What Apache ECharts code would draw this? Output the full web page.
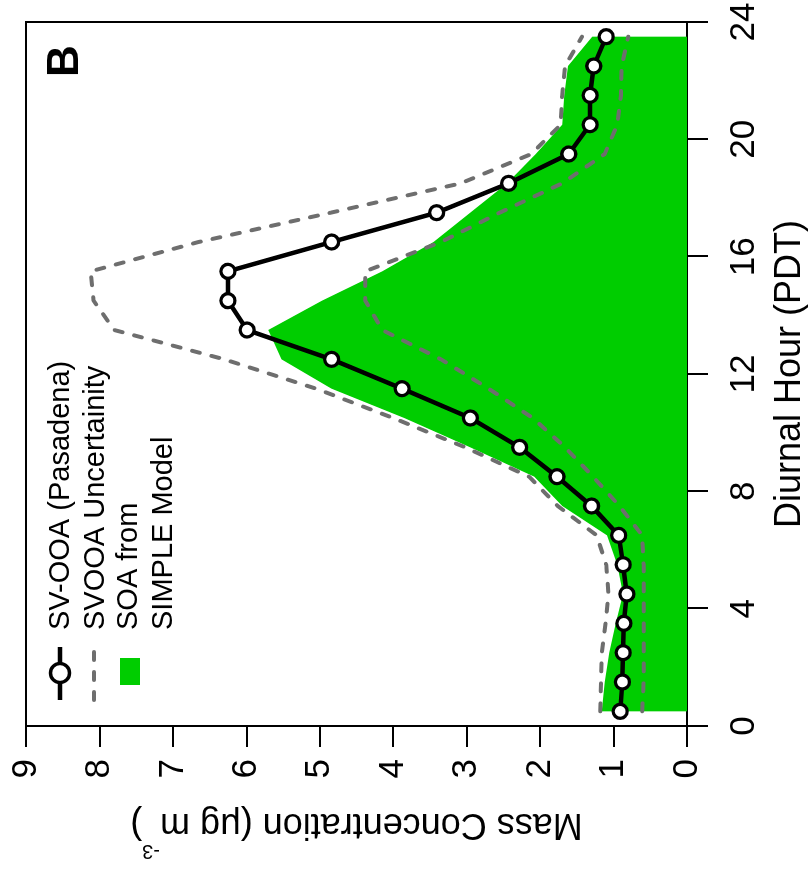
<!DOCTYPE html>
<html>
<head>
<meta charset="utf-8">
<script src="https://cdn.jsdelivr.net/npm/echarts/dist/echarts.min.js"></script>
<style>
  html, body { margin: 0; padding: 0; background: #fff; overflow: hidden; width: 809px; height: 870px; }
  /* the figure is drawn in its normal orientation, then turned a quarter left */
  #chart {
    position: absolute;
    left: 0;
    top: 870px;
    width: 870px;
    height: 809px;
    transform-origin: 0 0;
    transform: rotate(-90deg);
  }
</style>
</head>
<body>
<div id="chart"></div>
<script>
// diurnal profiles, one value per hour bin
const hours = [0.5, 1.5, 2.5, 3.5, 4.5, 5.5, 6.5, 7.5, 8.5, 9.5, 10.5, 11.5,
  12.5, 13.5, 14.5, 15.5, 16.5, 17.5, 18.5, 19.5, 20.5, 21.5, 22.5, 23.5]
const svooa = [0.91, 0.88, 0.87, 0.86, 0.82, 0.87, 0.93, 1.30, 1.77, 2.28, 2.95, 3.88,
  4.84, 5.99, 6.25, 6.25, 4.84, 3.41, 2.43, 1.61, 1.32, 1.32, 1.27, 1.10]
const svooaUpper = [1.18, 1.17, 1.16, 1.11, 1.07, 1.10, 1.23, 1.76, 2.15, 3.02, 4.00, 5.05,
  6.30, 7.80, 8.08, 8.12, 6.65, 4.85, 3.08, 2.12, 1.72, 1.70, 1.66, 1.43]
const svooaLower = [0.61, 0.59, 0.59, 0.59, 0.59, 0.59, 0.61, 0.92, 1.28, 1.66, 2.10, 2.70,
  3.35, 4.15, 4.38, 4.38, 3.35, 2.55, 1.70, 1.12, 0.95, 0.90, 0.89, 0.80]
const soaModel = [1.16, 1.12, 1.06, 0.97, 0.87, 0.95, 1.09, 1.70, 2.08, 2.95, 3.85, 4.84,
  5.52, 5.70, 4.97, 4.15, 3.45, 2.95, 2.45, 2.06, 1.70, 1.67, 1.62, 1.29]

const hourRange = [0, 24]
const concRange = [0, 9]

const FONT = '"Liberation Sans", Arial, sans-serif'
const GREEN = '#00cd00'
const GREY = '#6e6e6e'

const pairs = arr => hours.map((h, i) => [h, arr[i]])

const chart = echarts.init(document.getElementById('chart'), null, { width: 870, height: 809 })

const option = {
  animation: false,
  backgroundColor: '#fff',
  grid: {
    left: 144, right: 22, top: 26, bottom: 122,
    show: true, borderColor: '#000', borderWidth: 2,
    outerBoundsMode: 'none', containLabel: false
  },
  xAxis: {
    type: 'value',
    min: hourRange[0], max: hourRange[1], interval: 4,
    name: 'Diurnal Hour (PDT)',
    nameLocation: 'middle',
    nameGap: 85,
    nameTextStyle: { fontSize: 36, color: '#000', fontFamily: FONT },
    axisLine: { show: true, lineStyle: { color: '#000', width: 2 } },
    axisTick: { show: true, inside: false, length: 21, lineStyle: { color: '#000', width: 2 } },
    axisLabel: { margin: 40, fontSize: 35, color: '#000', fontFamily: FONT, verticalAlign: 'top' },
    splitLine: { show: false }
  },
  yAxis: {
    type: 'value',
    min: concRange[0], max: concRange[1], interval: 1,
    name: '{m|Mass Concentration (μg m}{sup|-3}{m|)}',
    nameLocation: 'middle',
    nameGap: 80,
    nameRotate: 90,
    nameTextStyle: {
      color: '#000', fontFamily: FONT, fontSize: 36,
      rich: {
        m: { fontSize: 36, color: '#000', fontFamily: FONT, verticalAlign: 'bottom' },
        sup: { fontSize: 20, color: '#000', fontFamily: FONT, verticalAlign: 'top', padding: [0, 0, 35, 0] }
      }
    },
    axisLine: { show: true, lineStyle: { color: '#000', width: 2 } },
    axisTick: { show: true, inside: false, length: 21, lineStyle: { color: '#000', width: 2 } },
    axisLabel: { margin: 33, fontSize: 35, color: '#000', fontFamily: FONT },
    splitLine: { show: false }
  },
  series: [
    {
      name: 'SOA from SIMPLE Model',
      type: 'line',
      data: pairs(soaModel),
      symbol: 'none',
      lineStyle: { width: 0, opacity: 0 },
      areaStyle: { color: GREEN, opacity: 1 },
      silent: true,
      z: 1
    },
    {
      name: 'SVOOA Uncertainity',
      type: 'line',
      data: pairs(svooaUpper),
      symbol: 'none',
      lineStyle: { color: GREY, width: 4, type: [8, 12], cap: 'round' },
      silent: true,
      z: 2
    },
    {
      name: 'SVOOA Uncertainity',
      type: 'line',
      data: pairs(svooaLower),
      symbol: 'none',
      lineStyle: { color: GREY, width: 4, type: [8, 12], cap: 'round' },
      silent: true,
      z: 2
    },
    {
      name: 'SV-OOA (Pasadena)',
      type: 'line',
      data: pairs(svooa),
      symbol: 'circle',
      symbolSize: 14,
      lineStyle: { color: '#000', width: 4.5 },
      itemStyle: { color: '#fff', borderColor: '#000', borderWidth: 3.3 },
      emphasis: { disabled: true },
      silent: true,
      z: 3
    }
  ],
  // hand-placed legend and panel letter, as in the original figure
  graphic: [
    { type: 'line', z: 100, shape: { x1: 170, y1: 60, x2: 223, y2: 60 }, style: { stroke: '#000', lineWidth: 4.5 } },
    { type: 'circle', z: 101, shape: { cx: 197, cy: 60, r: 9.5 }, style: { fill: '#fff', stroke: '#000', lineWidth: 3.3 } },
    { type: 'line', z: 100, shape: { x1: 170, y1: 94, x2: 223, y2: 94 }, style: { stroke: GREY, lineWidth: 4, lineDash: [8, 12], lineCap: 'round' } },
    { type: 'rect', z: 100, shape: { x: 185, y: 120, width: 27, height: 20 }, style: { fill: GREEN } },
    { type: 'text', z: 100, style: { x: 240, y: 60.6, text: 'SV-OOA (Pasadena)', font: '29px ' + FONT, fill: '#000', align: 'left', verticalAlign: 'middle' } },
    { type: 'text', z: 100, style: { x: 240, y: 95.6, text: 'SVOOA Uncertainity', font: '29px ' + FONT, fill: '#000', align: 'left', verticalAlign: 'middle' } },
    { type: 'text', z: 100, style: { x: 240, y: 129, text: 'SOA from', font: '29px ' + FONT, fill: '#000', align: 'left', verticalAlign: 'middle' } },
    { type: 'text', z: 100, style: { x: 240, y: 164, text: 'SIMPLE Model', font: '29px ' + FONT, fill: '#000', align: 'left', verticalAlign: 'middle' } },
    { type: 'text', z: 100, style: { x: 793, y: 66, text: 'B', font: 'bold 44px ' + FONT, fill: '#000', align: 'left', verticalAlign: 'middle' } }
  ]
}

chart.setOption(option)
</script>
</body>
</html>
